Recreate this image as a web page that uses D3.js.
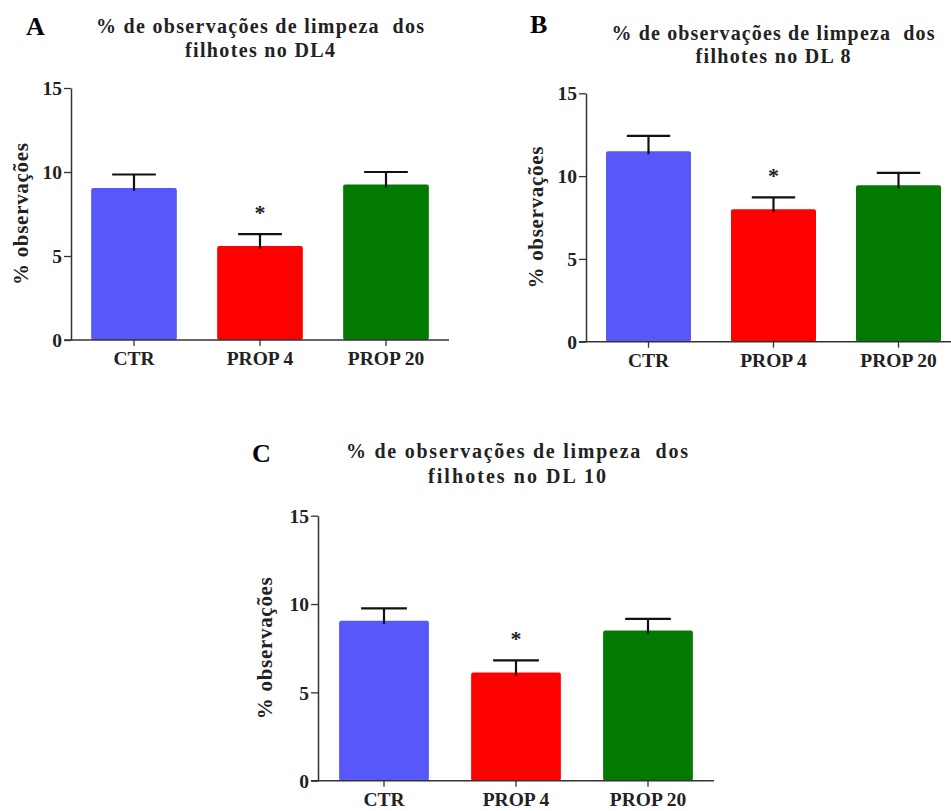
<!DOCTYPE html>
<html>
<head>
<meta charset="utf-8">
<script src="https://cdn.jsdelivr.net/npm/d3@7"></script>
<style>
  html, body { margin: 0; padding: 0; background: #fff; }
  svg { display: block; }
</style>
</head>
<body>
<svg id="chart" width="951" height="811"></svg>
<script>
// 数据
const categories = ['CTR', 'PROP 4', 'PROP 20']
const colors = ['#5757fa', '#ff0000', '#027a02']
const yTicks = [0, 5, 10, 15]
const significant = [false, true, false]

const meanDL4 = [9.05, 5.6, 9.25]
const semDL4 = [0.8, 0.7, 0.75]
const meanDL8 = [11.5, 8.0, 9.45]
const semDL8 = [0.93, 0.72, 0.75]
const meanDL10 = [9.05, 6.13, 8.5]
const semDL10 = [0.7, 0.68, 0.66]

const titleLine1 = '% de observações de limpeza  dos'
const yLabel = '% observações'

const FONT = '"Liberation Serif", "Times New Roman", Times, serif'

// 面板布局
const panels = [
  {
    letter: 'A', title2: 'filhotes no DL4', mean: meanDL4, sem: semDL4,
    x0: 71, x1: 449, y0: 340, y1: 88,
    titleX: 260, titleY: [33, 57], titleW: 328, title2W: 150,
    letterX: 26, letterY: 35, labelX: 28,
  },
  {
    letter: 'B', title2: 'filhotes no DL 8', mean: meanDL8, sem: semDL8,
    x0: 586, x1: 961, y0: 341.7, y1: 93.3,
    titleX: 773, titleY: [40, 63], titleW: 323, title2W: 155,
    letterX: 530, letterY: 33, labelX: 543,
  },
  {
    letter: 'C', title2: 'filhotes no DL 10', mean: meanDL10, sem: semDL10,
    x0: 318, x1: 714, y0: 780.7, y1: 515.7,
    titleX: 517, titleY: [458, 483], titleW: 342, title2W: 178,
    letterX: 252, letterY: 462, labelX: 272,
  },
]

const svg = d3.select('#chart').style('font-family', FONT).style('font-weight', 'bold')

panels.forEach((p) => {
  const g = svg.append('g')

  const x = d3.scaleBand().domain(categories).range([p.x0, p.x1]).paddingInner(0.32).paddingOuter(0.16)
  const y = d3.scaleLinear().domain([0, 15]).range([p.y0, p.y1])

  // 柱子
  g.selectAll('rect.bar')
    .data(categories)
    .join('rect')
    .attr('class', 'bar')
    .attr('x', (d) => x(d))
    .attr('width', x.bandwidth())
    .attr('y', (d, i) => y(p.mean[i]))
    .attr('height', (d, i) => y(0) - y(p.mean[i]))
    .attr('rx', 2)
    .attr('fill', (d, i) => colors[i])

  // 误差线
  const capW = x.bandwidth() * 0.51
  const err = g.selectAll('g.err').data(categories).join('g').attr('class', 'err')
  err.append('line')
    .attr('x1', (d) => x(d) + x.bandwidth() / 2)
    .attr('x2', (d) => x(d) + x.bandwidth() / 2)
    .attr('y1', (d, i) => y(p.mean[i]) + 3)
    .attr('y2', (d, i) => y(p.mean[i] + p.sem[i]))
    .attr('stroke', '#111').attr('stroke-width', 2.2)
  err.append('line')
    .attr('x1', (d) => x(d) + x.bandwidth() / 2 - capW / 2)
    .attr('x2', (d) => x(d) + x.bandwidth() / 2 + capW / 2)
    .attr('y1', (d, i) => y(p.mean[i] + p.sem[i]))
    .attr('y2', (d, i) => y(p.mean[i] + p.sem[i]))
    .attr('stroke', '#111').attr('stroke-width', 2.2)

  // 显著性标记
  g.selectAll('text.star')
    .data(categories.filter((d, i) => significant[i]))
    .join('text')
    .attr('class', 'star')
    .attr('x', (d) => x(d) + x.bandwidth() / 2)
    .attr('y', (d) => {
      const i = categories.indexOf(d)
      return y(p.mean[i] + p.sem[i]) - 14
    })
    .attr('text-anchor', 'middle')
    .style('font-size', '22px')
    .attr('fill', '#222')
    .text('*')

  // Y轴
  const yAxis = g.append('g')
    .attr('transform', `translate(${p.x0},0)`)
    .call(d3.axisLeft(y).tickValues(yTicks).tickSize(7).tickPadding(2).tickSizeOuter(0))
  yAxis.attr('font-family', null).attr('font-size', null)
  yAxis.select('.domain').attr('stroke', '#333').attr('stroke-width', 1.5)
  yAxis.selectAll('.tick line').attr('stroke', '#333').attr('stroke-width', 1.3)
  yAxis.selectAll('.tick text').style('font-size', '19.5px').style('font-family', FONT).attr('fill', '#222').attr('dy', '0.34em')

  // X轴
  const xAxis = g.append('g')
    .attr('transform', `translate(0,${p.y0})`)
    .call(d3.axisBottom(x).tickSize(6).tickPadding(5).tickSizeOuter(0))
  xAxis.attr('font-family', null).attr('font-size', null)
  xAxis.select('.domain').attr('stroke', '#333').attr('stroke-width', 1.5)
    .attr('d', `M${p.x0 - 7},0H${p.x1}`)
  xAxis.selectAll('.tick line').attr('stroke', '#333').attr('stroke-width', 1.3)
  xAxis.selectAll('.tick text').style('font-size', '19.5px').style('font-family', FONT).attr('fill', '#222')

  // Y轴标题
  g.append('text')
    .attr('transform', `translate(${p.labelX},${(p.y0 + p.y1) / 2}) rotate(-90)`)
    .attr('text-anchor', 'middle')
    .style('font-size', '21px')
    .attr('fill', '#222')
    .attr('textLength', 142)
    .attr('lengthAdjust', 'spacing')
    .text(yLabel)

  // 标题
  g.append('text')
    .attr('x', p.titleX).attr('y', p.titleY[0])
    .attr('text-anchor', 'middle')
    .style('font-size', '20px')
    .style('white-space', 'pre')
    .attr('fill', '#222')
    .attr('textLength', p.titleW)
    .attr('lengthAdjust', 'spacing')
    .text(titleLine1)
  g.append('text')
    .attr('x', p.titleX).attr('y', p.titleY[1])
    .attr('text-anchor', 'middle')
    .style('font-size', '20px')
    .attr('fill', '#222')
    .attr('textLength', p.title2W)
    .attr('lengthAdjust', 'spacing')
    .text(p.title2)

  // 面板字母
  g.append('text')
    .attr('x', p.letterX).attr('y', p.letterY)
    .style('font-size', '26px')
    .attr('fill', '#000')
    .text(p.letter)
})
</script>
</body>
</html>
